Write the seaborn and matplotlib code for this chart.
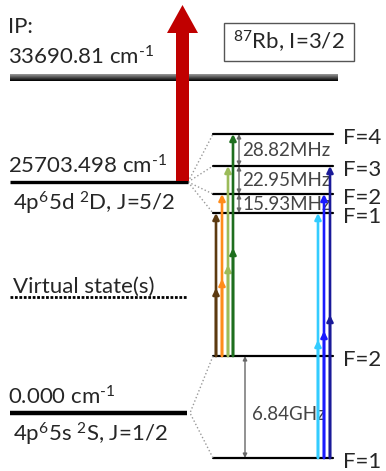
import numpy as np
import pandas as pd
import matplotlib
matplotlib.use("Agg")
import matplotlib.pyplot as plt
from matplotlib.patches import FancyArrow, Rectangle
import seaborn as sns

# ---- diagram data (vertical positions in drawing units, top = 0) ----
ip_label = "33690.81 cm$^{\\text{-}1}$"
fs_labels = ["25703.498 cm$^{\\text{-}1}$", "0.000 cm$^{\\text{-}1}$"]
fs_terms = ["4p$^6$5d $^2$D, J=5/2", "4p$^6$5s $^2$S, J=1/2"]
fs_y = [182, 413]
virtual_y = 297

upper_F = [4, 3, 2, 1]
upper_y = [134, 166, 194, 213]
lower_F = [2, 1]
lower_y = [356, 458]
upper_splits = ["28.82MHz", "22.95MHz", "15.93MHz"]
lower_split = "6.84GHz"

# excitation paths: lower F, upper F, colour, x slot, height of middle arrowhead
path_from = [2, 2, 2, 2, 1, 1, 1]
path_to = [1, 2, 3, 4, 1, 2, 3]
path_color = ["#5c3a10", "#ff8c1a", "#9bbb59", "#1e6e1e", "#33ccff", "#1a1aff", "#1a1a99"]
path_x = [216, 222, 228, 233, 318, 324, 330]
path_mid = [288, 279, 265, 248, 340, 331, 315]

sns.set_theme(style="white")
plt.rcParams["font.family"] = ["Lato", "DejaVu Sans"]
plt.rcParams["mathtext.fontset"] = "custom"
plt.rcParams["mathtext.rm"] = "Lato"
plt.rcParams["mathtext.it"] = "Lato:italic"
plt.rcParams["mathtext.bf"] = "Lato:bold"

W, H = 386, 471
fig = plt.figure(figsize=(W / 100, H / 100), dpi=100)
ax = fig.add_axes([0, 0, 1, 1])

FS = 16
FS_SMALL = 13.5

# fine-structure levels and hyperfine levels as line segments
rows = []
for F, y in zip(upper_F, upper_y):
    rows += [dict(level=f"u{F}", x=213, y=y), dict(level=f"u{F}", x=333, y=y)]
for F, y in zip(lower_F, lower_y):
    rows += [dict(level=f"l{F}", x=213, y=y), dict(level=f"l{F}", x=333, y=y)]
levels = pd.DataFrame(rows)
sns.lineplot(data=levels, x="x", y="y", units="level", estimator=None, sort=False,
             color="black", lw=1.6, ax=ax, legend=False)
ax.set_xlim(0, W)
ax.set_ylim(H, 0)
ax.axis("off")

# ionisation potential: shaded bar
grad = np.linspace(0.6, 0.0, 20).reshape(-1, 1)
ax.imshow(grad, cmap="gray", vmin=0, vmax=1, aspect="auto",
          extent=[10, 338, 81, 74], interpolation="bilinear", zorder=2)
ax.set_xlim(0, W)
ax.set_ylim(H, 0)
ax.text(8, 27, "IP:", fontsize=FS, va="center", ha="left")
ax.text(8, 57, ip_label, fontsize=FS, va="center", ha="left")

# isotope box
ax.add_patch(Rectangle((224, 23), 130, 38, fill=False, ec="#555555", lw=1.0, zorder=3))
ax.text(289, 42, "$^{87}$Rb, I=3/2", fontsize=FS, ha="center", va="center")

ax.plot([10, 188], [fs_y[0]] * 2, color="black", lw=2.4, solid_capstyle="butt", zorder=3)
ax.plot([10, 187], [fs_y[1]] * 2, color="black", lw=3.2, solid_capstyle="butt", zorder=3)

ax.plot([10, 187], [virtual_y] * 2, color="black", lw=2.0, ls=(0, (1, 0.6)))
ax.text(13, 287, "Virtual state(s)", fontsize=FS, va="center", ha="left")

for lab, term, y in zip(fs_labels, fs_terms, fs_y):
    ax.text(8, y - 16, lab, fontsize=FS, va="center", ha="left")
    ax.text(13, y + 21, term, fontsize=FS, va="center", ha="left")

# dotted fan-out to hyperfine structure
for y in upper_y:
    ax.plot([188, 213], [fs_y[0], y], color="#999999", lw=1.0, ls=":")
ax.plot([213, 190, 213], [lower_y[0], fs_y[1], lower_y[1]], color="#999999", lw=1.0, ls=":")

# F labels
for F, y in zip(upper_F + lower_F, upper_y + lower_y):
    ax.text(343, y + 4, f"F={F}", fontsize=FS, va="center", ha="left")

# splitting arrows
for (a, b), lab in zip(zip(upper_y[:-1], upper_y[1:]), upper_splits):
    ax.annotate("", xy=(239, b), xytext=(239, a),
                arrowprops=dict(arrowstyle="<|-|>", color="#666666", lw=1.0,
                                mutation_scale=6, shrinkA=0, shrinkB=0))
    ax.text(242, (a + b) / 2 + 1, lab, fontsize=FS_SMALL, color="#444444", va="center", ha="left")
ax.annotate("", xy=(245, lower_y[1]), xytext=(245, lower_y[0]),
            arrowprops=dict(arrowstyle="<|-|>", color="#666666", lw=1.0,
                            mutation_scale=6, shrinkA=0, shrinkB=0))
ax.text(252, 415, lower_split, fontsize=FS_SMALL, color="#444444", va="center", ha="left")

# laser excitation paths
F_lo = dict(zip(lower_F, lower_y))
F_up = dict(zip(upper_F, upper_y))
for f0, f1, c, x, ym in zip(path_from, path_to, path_color, path_x, path_mid):
    y0, y1 = F_lo[f0], F_up[f1]
    for ytop in (y1, ym):
        ax.annotate("", xy=(x, ytop), xytext=(x, y0),
                    arrowprops=dict(arrowstyle="-|>", color=c, lw=1.9,
                                    mutation_scale=9, shrinkA=0, shrinkB=0),
                    zorder=4)

# ionisation step
ax.add_patch(FancyArrow(182.5, 181, 0, -176, width=13, head_width=31, head_length=28,
                        length_includes_head=True, color="#c00000", lw=0, zorder=5))

fig.savefig("out.png", dpi=100)
